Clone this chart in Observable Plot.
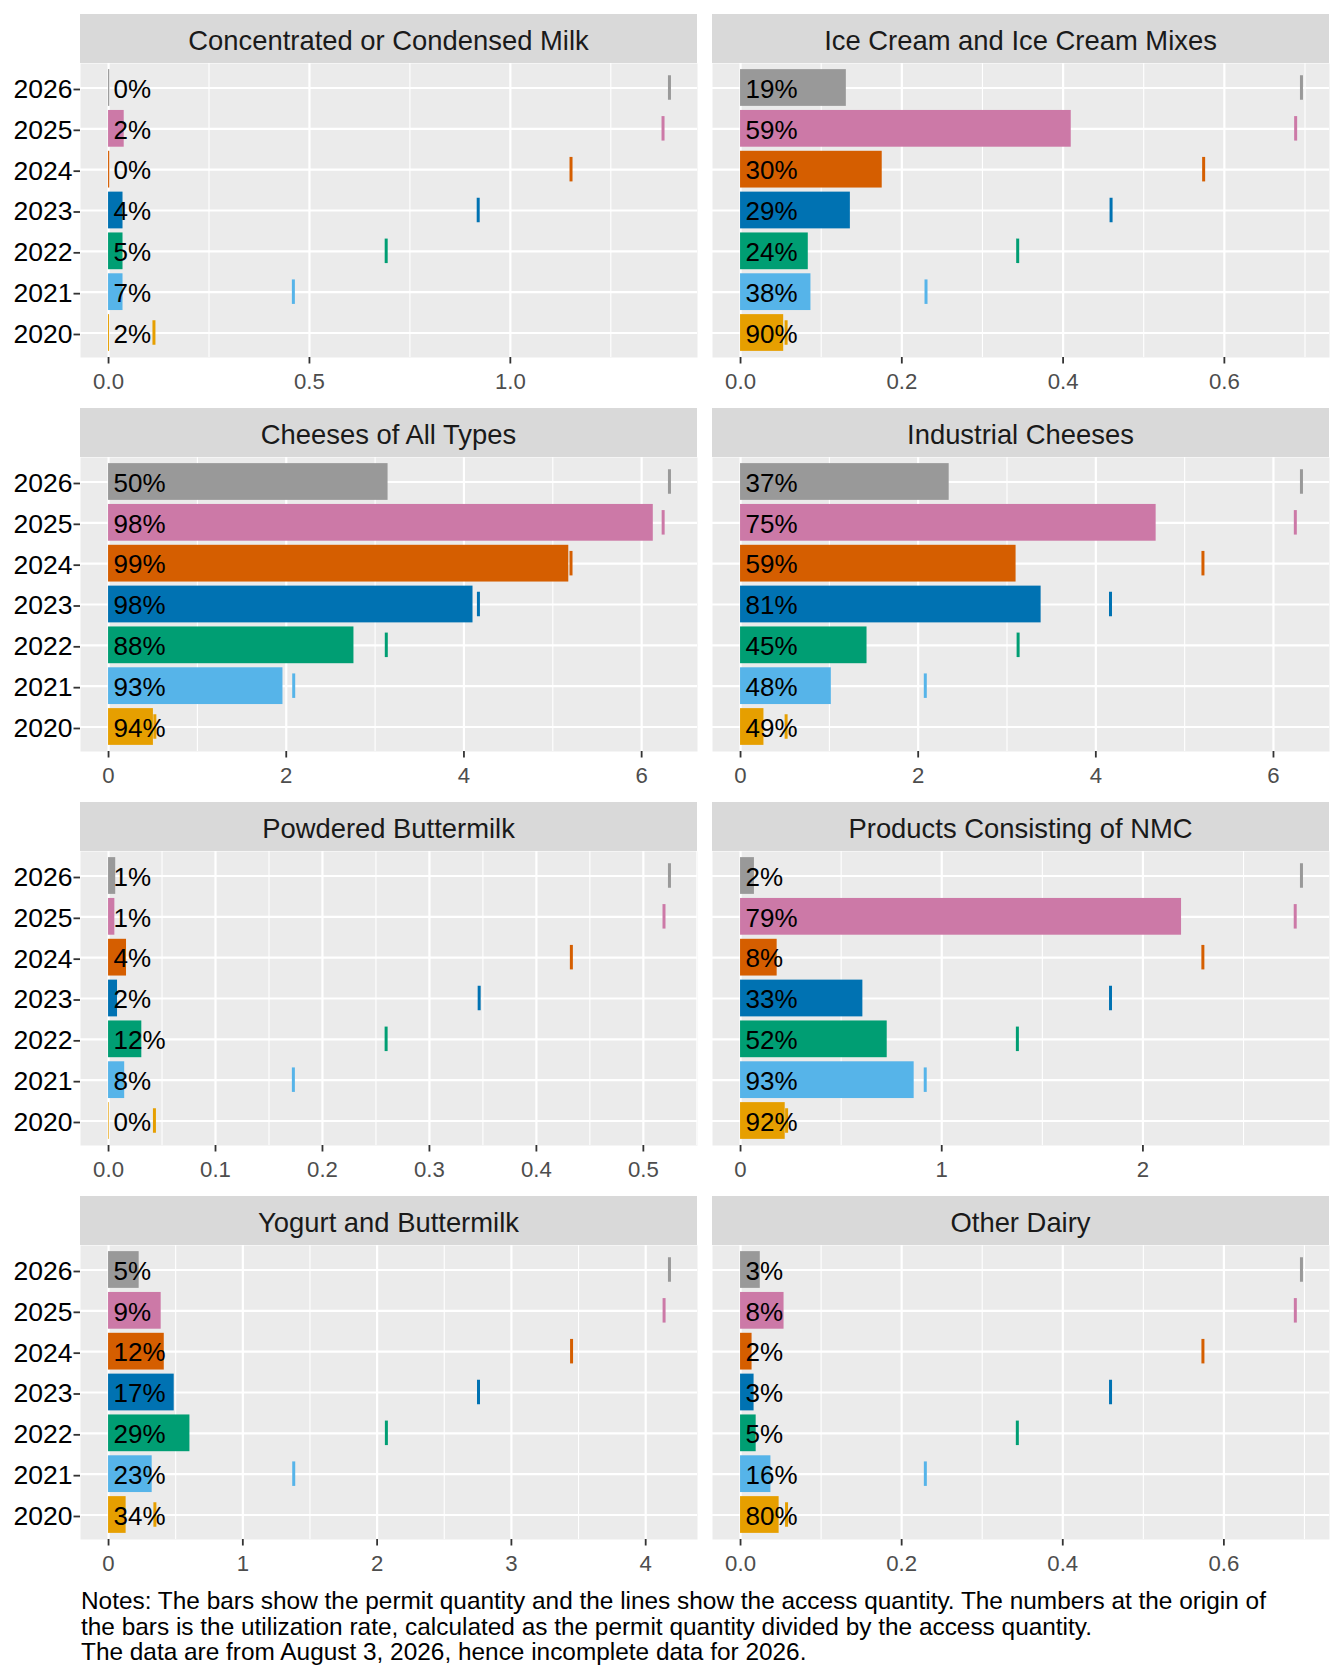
<!DOCTYPE html>
<html><head><meta charset="utf-8">
<script src="https://cdn.jsdelivr.net/npm/d3@7"></script>
<script src="https://cdn.jsdelivr.net/npm/@observablehq/plot@0.6"></script>
<style>
body{margin:0;background:#fff;font-family:"Liberation Sans",Arial,sans-serif;}
#root{position:relative;width:1344px;height:1680px;overflow:hidden;}
.strip{position:absolute;height:49px;width:617px;background:#D9D9D9;color:#1A1A1A;font-size:27.4px;text-align:center;line-height:49px;box-sizing:border-box;padding-top:1.5px;white-space:nowrap;}
.panel{position:absolute;}
.panel svg{overflow:visible;}
#notes{position:absolute;left:81px;top:1588px;font-size:24.4px;line-height:25.7px;color:#000;white-space:nowrap;}
</style></head><body><div id="root"></div>
<script>
const years = [2020, 2021, 2022, 2023, 2024, 2025, 2026];
const palette = ["#E69F00", "#56B4E9", "#009E73", "#0072B2", "#D55E00", "#CC79A7", "#999999"];
const categories = [
  "Concentrated or Condensed Milk", "Ice Cream and Ice Cream Mixes",
  "Cheeses of All Types", "Industrial Cheeses",
  "Powdered Buttermilk", "Products Consisting of NMC",
  "Yogurt and Buttermilk", "Other Dairy"
];
// access quantity (lines), 2020..2026
const accessConcentrated = [0.113, 0.460, 0.691, 0.920, 1.151, 1.380, 1.396];
const accessIceCream     = [0.0565, 0.230, 0.3437, 0.4595, 0.5743, 0.6884, 0.6956];
const accessCheeses      = [0.521, 2.084, 3.126, 4.163, 5.205, 6.242, 6.313];
const accessIndustrial   = [0.513, 2.080, 3.125, 4.165, 5.206, 6.246, 6.315];
const accessPowdered     = [0.0429, 0.1728, 0.2595, 0.3465, 0.4327, 0.5193, 0.5244];
const accessNMC          = [0.229, 0.918, 1.376, 1.839, 2.298, 2.757, 2.788];
const accessYogurt       = [0.345, 1.379, 2.069, 2.755, 3.448, 4.137, 4.177];
const accessOther        = [0.0571, 0.2294, 0.3436, 0.4593, 0.574, 0.6887, 0.6963];
// permit quantity (bars), 2020..2026
const permitConcentrated = [0.0025, 0.036, 0.036, 0.036, 0.003, 0.039, 0.003];
const permitIceCream     = [0.0535, 0.0873, 0.084, 0.1362, 0.1757, 0.4101, 0.1312];
const permitCheeses      = [0.505, 1.963, 2.762, 4.102, 5.180, 6.131, 3.146];
const permitIndustrial   = [0.2635, 1.022, 1.424, 3.384, 3.102, 4.679, 2.349];
const permitPowdered     = [0.0006, 0.0151, 0.0311, 0.0084, 0.0168, 0.0059, 0.0067];
const permitNMC          = [0.222, 0.863, 0.729, 0.608, 0.182, 2.192, 0.069];
const permitYogurt       = [0.131, 0.325, 0.606, 0.489, 0.415, 0.392, 0.228];
const permitOther        = [0.0479, 0.0377, 0.0194, 0.0168, 0.0143, 0.054, 0.0245];
// utilization rate labels (%), 2020..2026
const rateConcentrated = [2, 7, 5, 4, 0, 2, 0];
const rateIceCream     = [90, 38, 24, 29, 30, 59, 19];
const rateCheeses      = [94, 93, 88, 98, 99, 98, 50];
const rateIndustrial   = [49, 48, 45, 81, 59, 75, 37];
const ratePowdered     = [0, 8, 12, 2, 4, 1, 1];
const rateNMC          = [92, 93, 52, 33, 8, 79, 2];
const rateYogurt       = [34, 23, 29, 17, 12, 9, 5];
const rateOther        = [80, 16, 5, 3, 2, 8, 3];
// x-axis tick values per panel
const ticksConcentrated = [0, 0.5, 1.0];
const ticksIceCream     = [0, 0.2, 0.4, 0.6];
const ticksCheeses      = [0, 2, 4, 6];
const ticksIndustrial   = [0, 2, 4, 6];
const ticksPowdered     = [0, 0.1, 0.2, 0.3, 0.4, 0.5];
const ticksNMC          = [0, 1, 2];
const ticksYogurt       = [0, 1, 2, 3, 4];
const ticksOther        = [0, 0.2, 0.4, 0.6];

const accessAll = [accessConcentrated, accessIceCream, accessCheeses, accessIndustrial, accessPowdered, accessNMC, accessYogurt, accessOther];
const permitAll = [permitConcentrated, permitIceCream, permitCheeses, permitIndustrial, permitPowdered, permitNMC, permitYogurt, permitOther];
const rateAll = [rateConcentrated, rateIceCream, rateCheeses, rateIndustrial, ratePowdered, rateNMC, rateYogurt, rateOther];
const ticksAll = [ticksConcentrated, ticksIceCream, ticksCheeses, ticksIndustrial, ticksPowdered, ticksNMC, ticksYogurt, ticksOther];

const root = document.getElementById("root");
const stripTops = [14, 408, 802, 1196];
const colLefts = [80, 712];
const PW = 617;
const PH = 294;

categories.forEach((name, i) => {
  const row = Math.floor(i / 2), col = i % 2;
  const strip = document.createElement("div");
  strip.className = "strip";
  strip.style.left = colLefts[col] + "px";
  strip.style.top = stripTops[row] + "px";
  strip.textContent = name;
  root.appendChild(strip);

  const rows = years.map((y, j) => ({year: y, access: accessAll[i][j], permit: permitAll[i][j], rate: rateAll[i][j]}));
  const M = d3.max(rows, d => Math.max(d.access, d.permit));
  const lo = -0.05 * M, hi = 1.05 * M;
  const ticks = ticksAll[i];
  const step = ticks[1] - ticks[0];
  const minor = ticks.map(v => v + step / 2).concat([ticks[0] - step / 2]).filter(v => v > lo && v < hi);
  const fmt = Number.isInteger(step) ? d3.format("d") : d3.format(".1f");
  const left = col === 0;

  const marks = [
    Plot.frame({fill: "#EBEBEB", stroke: "none"}),
    Plot.ruleX(minor, {stroke: "white", strokeWidth: 1.1}),
    Plot.ruleX(ticks, {stroke: "white", strokeWidth: 2.2}),
    Plot.ruleY(years, {stroke: "white", strokeWidth: 2.2}),
    Plot.rect(rows, {x1: 0, x2: "permit", y1: d => d.year - 0.45, y2: d => d.year + 0.45, fill: "year"}),
    Plot.ruleX(rows, {x: "access", y1: d => d.year - 0.3, y2: d => d.year + 0.3, stroke: "year", strokeWidth: 3}),
    Plot.text(rows, {x: 0, y: "year", text: d => d.rate + "%", textAnchor: "start", dx: 5, dy: 1.5, fontSize: 26, fill: "black"}),
    Plot.axisX({ticks, tickFormat: fmt, fontSize: 22.2, tickSize: 6.5, tickPadding: 9, strokeWidth: 1.8, stroke: "#333333", fill: "#4D4D4D", label: null})
  ];
  if (left) {
    marks.push(Plot.axisY({ticks: years, tickFormat: d => String(d), fontSize: 26.5, tickSize: 6.5, tickPadding: 1.5, dy: 1.5, strokeWidth: 1.8, stroke: "#333333", fill: "black", label: null}));
  }
  const chart = Plot.plot({
    width: left ? colLefts[0] + PW : PW,
    height: PH + 45,
    marginLeft: left ? colLefts[0] : 0,
    marginRight: 0,
    marginTop: 0,
    marginBottom: 45,
    style: {fontFamily: "Liberation Sans, Arial, sans-serif", background: "transparent", overflow: "visible"},
    x: {domain: [lo, hi]},
    y: left ? {domain: [2019.4, 2026.6]} : {domain: [2019.4, 2026.6], axis: null},
    color: {type: "ordinal", domain: years, range: palette},
    marks
  });
  const wrap = document.createElement("div");
  wrap.className = "panel";
  wrap.style.left = (left ? 0 : colLefts[1]) + "px";
  wrap.style.top = (stripTops[row] + 49) + "px";
  wrap.appendChild(chart);
  root.appendChild(wrap);
});

const notes = document.createElement("div");
notes.id = "notes";
notes.innerHTML = "Notes: The bars show the permit quantity and the lines show the access quantity. The numbers at the origin of<br>" +
  "the bars is the utilization rate, calculated as the permit quantity divided by the access quantity.<br>" +
  "The data are from August 3, 2026, hence incomplete data for 2026.";
root.appendChild(notes);
</script>
</body></html>
